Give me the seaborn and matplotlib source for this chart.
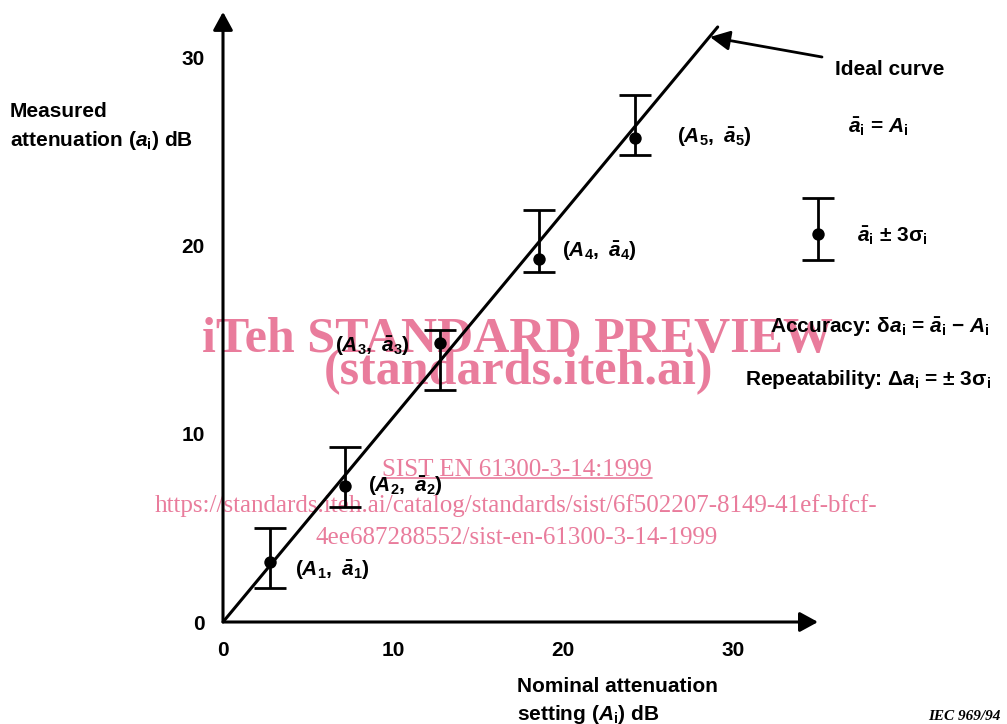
"""Measured vs nominal attenuation with ±3σ repeatability bars (IEC 61300-3-14 style)."""
import matplotlib
matplotlib.use("Agg")
import matplotlib.pyplot as plt
import seaborn as sns
from matplotlib.lines import Line2D

# Nominal setting A_i, mean measured value ā_i and the ±3σ limits, in dB.
NOMINAL = [2.76, 7.18, 12.76, 18.59, 24.24]
MEASURED = [3.2, 7.2, 14.8, 19.3, 25.7]
UPPER = [5.0, 9.3, 15.5, 21.9, 28.0]
LOWER = [1.8, 6.1, 12.3, 18.6, 24.8]
POINT_LABELS = [r"$(A_1,\ \bar{a}_1)$", r"$(A_2,\ \bar{a}_2)$", r"$(A_3,\ \bar{a}_3)$",
                r"$(A_4,\ \bar{a}_4)$", r"$(A_5,\ \bar{a}_5)$"]

# Ideal curve ā_i = A_i as drawn in the figure.
IDEAL_X = [0, 29.1]
IDEAL_Y = [0, 31.6]

# Legend sample of one error bar.
KEY_X, KEY_Y, KEY_LO, KEY_HI = [35.0], [20.6], [19.2], [22.5]

TICKS = [0, 10, 20, 30]

W, H = 1007, 724
X0, Y0 = 223, 622          # pixel position of the origin
SX, SY = 17.0, 18.83       # pixels per dB
XMAX, YMAX = 35, 32.4

sns.set_theme(style="white", rc={"axes.edgecolor": "black", "text.color": "black",
                                 "xtick.color": "black", "ytick.color": "black"})
plt.rcParams["font.family"] = ["Liberation Sans", "DejaVu Sans"]
plt.rcParams["font.weight"] = "bold"
plt.rcParams["mathtext.fontset"] = "custom"
plt.rcParams["mathtext.rm"] = "Liberation Sans:bold"
plt.rcParams["mathtext.it"] = "Liberation Sans:italic:bold"
plt.rcParams["mathtext.bf"] = "Liberation Sans:bold"

fig = plt.figure(figsize=(W / 100, H / 100), dpi=100)
ax = fig.add_axes([X0 / W, 1 - Y0 / H, XMAX * SX / W, YMAX * SY / H])
ax.set_xlim(0, XMAX)
ax.set_ylim(0, YMAX)
for s in ax.spines.values():
    s.set_visible(False)
ax.patch.set_alpha(0)

# axes drawn as arrows
arrow = dict(arrowstyle="-|>,head_length=0.55,head_width=0.3", lw=2.2, color="black",
             mutation_scale=20, shrinkA=0, shrinkB=0)
ax.annotate("", xy=(0, 1), xytext=(0, 0), xycoords="axes fraction", arrowprops=arrow)
ax.annotate("", xy=(1, 0), xytext=(0, 0), xycoords="axes fraction", arrowprops=arrow)

ax.set_xticks(TICKS)
ax.set_yticks(TICKS)
ax.tick_params(axis="both", length=0, labelsize=15, labelcolor="black")
ax.tick_params(axis="x", pad=14)
ax.tick_params(axis="y", pad=13)
for lab in ax.get_xticklabels() + ax.get_yticklabels():
    lab.set_fontweight("bold")

sns.lineplot(x=IDEAL_X, y=IDEAL_Y, color="black", lw=2.2, ax=ax)

yerr = [[m - lo for m, lo in zip(MEASURED, LOWER)], [hi - m for m, hi in zip(MEASURED, UPPER)]]
ax.errorbar(NOMINAL, MEASURED, yerr=yerr, fmt="none", ecolor="black", elinewidth=2,
            capsize=11.5, capthick=2)
sns.scatterplot(x=NOMINAL, y=MEASURED, color="black", s=80, ax=ax, zorder=5, linewidth=0)

kerr = [[KEY_Y[0] - KEY_LO[0]], [KEY_HI[0] - KEY_Y[0]]]
ax.errorbar(KEY_X, KEY_Y, yerr=kerr, fmt="none", ecolor="black", elinewidth=2,
            capsize=11.5, capthick=2, clip_on=False)
sns.scatterplot(x=KEY_X, y=KEY_Y, color="black", s=80, ax=ax, zorder=5, linewidth=0,
                clip_on=False)


def put(text, x, y, **kw):
    """Place text at a pixel position measured from the top-left corner."""
    kw.setdefault("fontsize", 15)
    kw.setdefault("fontweight", "bold")
    kw.setdefault("va", "baseline")
    kw.setdefault("color", "black")
    return fig.text(x / W, 1 - y / H, text, **kw)


label_pos = [(295, 576), (368, 492), (335, 352), (562, 257), (677, 143)]
for lab, (px, py) in zip(POINT_LABELS, label_pos):
    put(lab, px, py)

put("Measured", 10, 117)
put(r"attenuation ($a_\mathrm{i}$) dB", 10, 146)
put("Nominal attenuation", 517, 692)
put(r"setting ($A_\mathrm{i}$) dB", 517, 720)

put("Ideal curve", 835, 75)
ax.annotate("", xy=(710, H - 37), xytext=(822, H - 57), xycoords="figure pixels",
            arrowprops=dict(arrowstyle="-|>,head_length=0.6,head_width=0.3", lw=2,
                            color="black", mutation_scale=20, shrinkA=0, shrinkB=0))
put(r"$\bar{a}_\mathrm{i}$ = $A_\mathrm{i}$", 848, 133)
put(r"$\bar{a}_\mathrm{i}$ ± 3σ$_\mathrm{i}$", 857, 242)
put(r"Accuracy: δ$a_\mathrm{i}$ = $\bar{a}_\mathrm{i}$ − $A_\mathrm{i}$", 770, 333)
put(r"Repeatability: Δ$a_\mathrm{i}$ = ± 3σ$_\mathrm{i}$", 745, 385)
put("IEC 969/94", 928, 720, fontsize=11, fontstyle="italic",
    family=["Liberation Serif", "DejaVu Serif"])

# watermark, kept under the drawing
PINK = "#e97c9c"
serif = ["Liberation Serif", "DejaVu Serif"]
wm = dict(color=PINK, family=serif, ha="center", va="center", zorder=-1)
put("iTeh STANDARD PREVIEW", 517, 340, fontsize=36, **wm)
put("(standards.iteh.ai)", 518, 372, fontsize=36, **wm)
sist = put("SIST EN 61300-3-14:1999", 517, 470, fontsize=18, fontweight="normal", **wm)
put("https://standards.iteh.ai/catalog/standards/sist/6f502207-8149-41ef-bfcf-", 516, 506,
    fontsize=18, fontweight="normal", **wm)
put("4ee687288552/sist-en-61300-3-14-1999", 517, 538, fontsize=18, fontweight="normal", **wm)

fig.canvas.draw()
bb = sist.get_window_extent()
fig.add_artist(Line2D([bb.x0 / W, bb.x1 / W], [(bb.y0 + 3) / H] * 2, color=PINK, lw=1.2,
                      transform=fig.transFigure, zorder=-1))

fig.savefig("out.png", dpi=100)
